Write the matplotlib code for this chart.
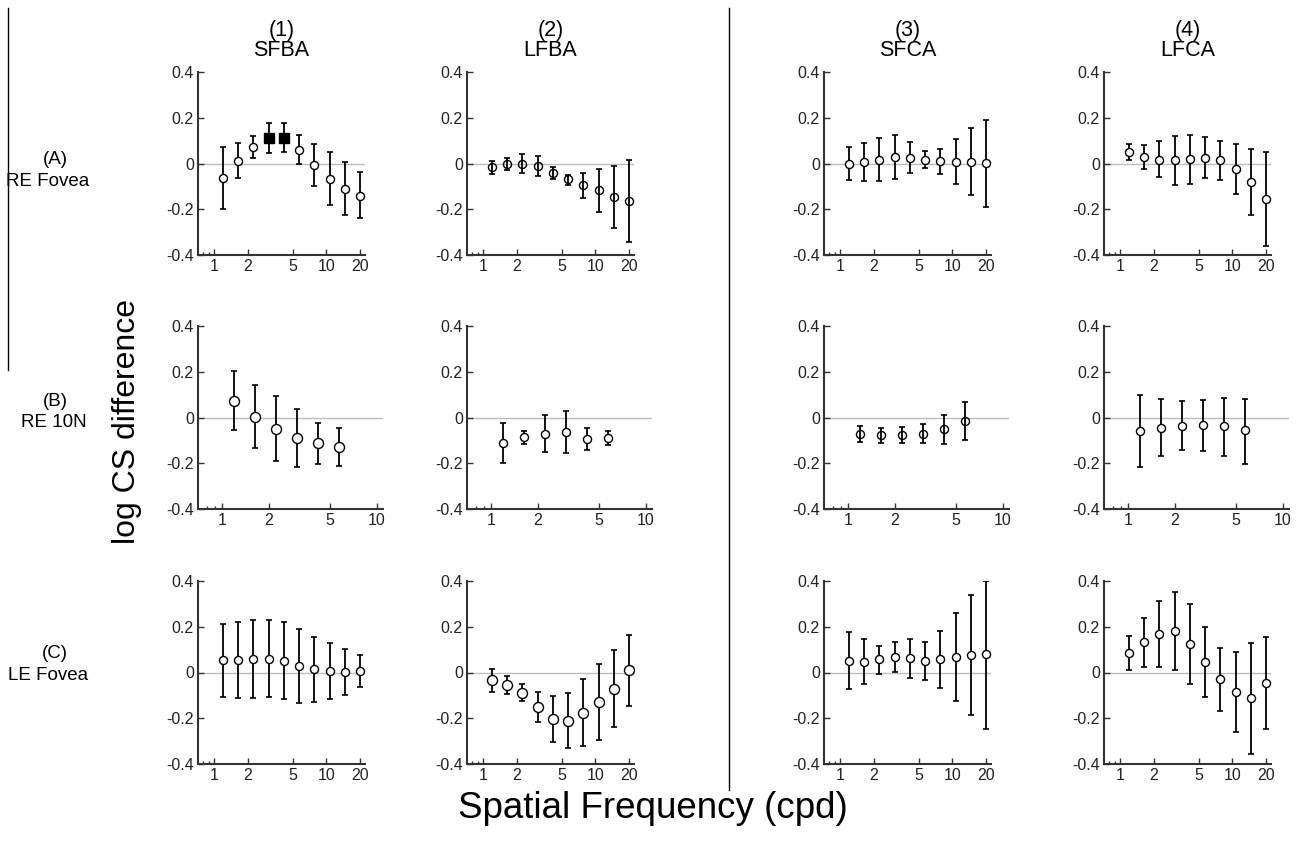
import matplotlib
matplotlib.use('Agg')
import matplotlib.pyplot as plt
from matplotlib.lines import Line2D
from matplotlib.ticker import FixedLocator, NullFormatter, FuncFormatter

plt.rcParams['font.family'] = ['Liberation Sans', 'DejaVu Sans']

# spatial frequencies (cpd)
freqs = [1.2, 1.64, 2.24, 3.06, 4.18, 5.71, 7.8, 10.65, 14.55, 19.9]

# row A : RE Fovea
A1_mean = [-0.064, 0.013, 0.072, 0.113, 0.113, 0.061, -0.007, -0.067, -0.11, -0.14]
A1_low = [-0.20, -0.064, 0.026, 0.048, 0.052, 0.0, -0.10, -0.18, -0.226, -0.24]
A1_high = [0.074, 0.088, 0.12, 0.175, 0.175, 0.125, 0.085, 0.049, 0.006, -0.035]

A2_mean = [-0.016, -0.003, 0.0, -0.012, -0.042, -0.068, -0.096, -0.118, -0.145, -0.165]
A2_low = [-0.045, -0.028, -0.042, -0.055, -0.067, -0.093, -0.15, -0.21, -0.28, -0.345]
A2_high = [0.012, 0.023, 0.042, 0.032, -0.016, -0.049, -0.04, -0.025, -0.01, 0.015]

A3_mean = [0.0, 0.006, 0.016, 0.028, 0.026, 0.017, 0.012, 0.007, 0.007, 0.003]
A3_low = [-0.07, -0.077, -0.078, -0.068, -0.043, -0.019, -0.045, -0.091, -0.139, -0.19]
A3_high = [0.072, 0.09, 0.113, 0.125, 0.096, 0.055, 0.065, 0.107, 0.154, 0.19]

A4_mean = [0.051, 0.029, 0.017, 0.014, 0.019, 0.025, 0.014, -0.025, -0.08, -0.155]
A4_low = [0.014, -0.023, -0.061, -0.094, -0.088, -0.062, -0.074, -0.135, -0.225, -0.36]
A4_high = [0.084, 0.083, 0.097, 0.119, 0.125, 0.115, 0.10, 0.085, 0.065, 0.05]

# row B : RE 10N
B1_mean = [0.074, 0.004, -0.049, -0.088, -0.113, -0.128]
B1_low = [-0.056, -0.134, -0.191, -0.216, -0.203, -0.212]
B1_high = [0.203, 0.143, 0.093, 0.037, -0.025, -0.047]

B2_mean = [-0.11, -0.087, -0.072, -0.065, -0.093, -0.09]
B2_low = [-0.20, -0.115, -0.151, -0.157, -0.143, -0.12]
B2_high = [-0.025, -0.059, 0.009, 0.029, -0.044, -0.06]

B3_mean = [-0.071, -0.078, -0.076, -0.071, -0.05, -0.015]
B3_low = [-0.107, -0.112, -0.113, -0.112, -0.115, -0.097]
B3_high = [-0.035, -0.047, -0.041, -0.029, 0.01, 0.068]

B4_mean = [-0.057, -0.044, -0.035, -0.034, -0.038, -0.055]
B4_low = [-0.215, -0.169, -0.144, -0.146, -0.168, -0.205]
B4_high = [0.099, 0.081, 0.072, 0.076, 0.087, 0.08]

# row C : LE Fovea
C1_mean = [0.054, 0.055, 0.057, 0.061, 0.052, 0.03, 0.016, 0.007, 0.003, 0.005]
C1_low = [-0.106, -0.11, -0.113, -0.107, -0.114, -0.132, -0.128, -0.114, -0.099, -0.065]
C1_high = [0.213, 0.222, 0.228, 0.23, 0.22, 0.19, 0.157, 0.129, 0.103, 0.075]

C2_mean = [-0.033, -0.055, -0.088, -0.151, -0.203, -0.21, -0.175, -0.13, -0.07, 0.01]
C2_low = [-0.087, -0.093, -0.126, -0.216, -0.303, -0.33, -0.32, -0.295, -0.24, -0.145]
C2_high = [0.017, -0.016, -0.052, -0.086, -0.101, -0.088, -0.03, 0.035, 0.10, 0.165]

C3_mean = [0.051, 0.048, 0.057, 0.068, 0.064, 0.052, 0.057, 0.068, 0.075, 0.08]
C3_low = [-0.074, -0.049, -0.006, 0.003, -0.023, -0.033, -0.067, -0.126, -0.186, -0.245]
C3_high = [0.177, 0.146, 0.116, 0.135, 0.148, 0.135, 0.183, 0.262, 0.338, 0.40]

C4_mean = [0.087, 0.132, 0.17, 0.181, 0.123, 0.045, -0.029, -0.085, -0.11, -0.045]
C4_low = [0.01, 0.025, 0.025, 0.009, -0.052, -0.109, -0.167, -0.26, -0.355, -0.245]
C4_high = [0.16, 0.238, 0.313, 0.354, 0.301, 0.20, 0.109, 0.09, 0.13, 0.155]

# significant points (filled squares) in A1
A1_sig = [3, 4]

col_titles = ['(1)\nSFBA', '(2)\nLFBA', '(3)\nSFCA', '(4)\nLFCA']
row_titles = [('(A)', 'RE Fovea'), ('(B)', 'RE 10N'), ('(C)', 'LE Fovea')]

data = {
    'A1': (A1_mean, A1_low, A1_high), 'A2': (A2_mean, A2_low, A2_high),
    'A3': (A3_mean, A3_low, A3_high), 'A4': (A4_mean, A4_low, A4_high),
    'B1': (B1_mean, B1_low, B1_high), 'B2': (B2_mean, B2_low, B2_high),
    'B3': (B3_mean, B3_low, B3_high), 'B4': (B4_mean, B4_low, B4_high),
    'C1': (C1_mean, C1_low, C1_high), 'C2': (C2_mean, C2_low, C2_high),
    'C3': (C3_mean, C3_low, C3_high), 'C4': (C4_mean, C4_low, C4_high),
}

W, H = 1306, 843
fig = plt.figure(figsize=(W / 100, H / 100), dpi=100)

col_left = [198, 467, 824, 1104]
row_top = [72, 326, 581]
ax_h = 183
big_markers = ['B1', 'C2']
hollow = ['A2', 'B3']
axis_col = '#333333'

for r, row in enumerate('ABC'):
    for c in range(4):
        key = row + str(c + 1)
        mean, low, high = data[key]
        x = freqs[:len(mean)]
        if row == 'B':
            w = 185
            xlim = (0.70, 11)
            majors = [1, 2, 5, 10]
        else:
            w = 167
            xlim = (0.72, 22)
            majors = [1, 2, 5, 10, 20]
        ax = fig.add_axes([col_left[c] / W, 1 - (row_top[r] + ax_h) / H, w / W, ax_h / H])
        ax.axhline(0, color='#bdbdbd', lw=1, zorder=0)
        yerr = [[m - lo for m, lo in zip(mean, low)], [hi - m for m, hi in zip(mean, high)]]
        ax.errorbar(x, mean, yerr=yerr, fmt='none', ecolor='black', elinewidth=1.3,
                    capsize=2, capthick=1.2, zorder=2)
        ms = 7.2 if key in big_markers else 5.8
        face = 'none' if key in hollow else 'white'
        for i, (xi, yi) in enumerate(zip(x, mean)):
            if key == 'A1' and i in A1_sig:
                ax.plot(xi, yi, 's', ms=6.8, mfc='black', mec='black', zorder=3)
            else:
                ax.plot(xi, yi, 'o', ms=ms, mfc=face, mec='black', mew=1, zorder=3)
        ax.set_xscale('log')
        ax.set_xlim(*xlim)
        ax.set_ylim(-0.4, 0.4)
        ax.xaxis.set_major_locator(FixedLocator(majors))
        ax.xaxis.set_major_formatter(FuncFormatter(lambda v, p: f'{v:g}'))
        ax.xaxis.set_minor_locator(FixedLocator([0.8, 0.9]))
        ax.xaxis.set_minor_formatter(NullFormatter())
        ax.set_yticks([-0.4, -0.2, 0, 0.2, 0.4])
        ax.set_yticklabels(['-0.4', '-0.2', '0', '0.2', '0.4'])
        for s in ['top', 'right']:
            ax.spines[s].set_visible(False)
        for s in ['left', 'bottom']:
            ax.spines[s].set_color(axis_col)
            ax.spines[s].set_linewidth(1.5)
        ax.tick_params(which='major', direction='in', length=4, width=1, labelsize=11.5,
                       color=axis_col, labelcolor='#222222', pad=3)
        ax.tick_params(which='minor', direction='in', length=2, width=1, color=axis_col)
        if r == 0:
            ax.text(0.5, 1 + 11 / ax_h, col_titles[c], transform=ax.transAxes, ha='center',
                    va='bottom', fontsize=15.5, linespacing=0.95)

# row labels (centre positions in pixels)
label_y = [(160, 181), (402, 422), (654, 675)]
name_x = [48, 54, 48]
for r, (lab, name) in enumerate(row_titles):
    fig.text(55 / W, 1 - label_y[r][0] / H, lab, ha='center', va='center', fontsize=13.5)
    fig.text(name_x[r] / W, 1 - label_y[r][1] / H, name, ha='center', va='center',
             fontsize=13.5)

fig.text(127 / W, 1 - 422 / H, 'log CS difference', rotation=90, ha='center',
         va='center', fontsize=23)
fig.text(653 / W, 1 - 809 / H, 'Spatial Frequency (cpd)', ha='center', va='center',
         fontsize=26.5)

# divider lines
fig.add_artist(Line2D([729 / W, 729 / W], [1 - 8 / H, 1 - 790 / H], color='black', lw=1))
fig.add_artist(Line2D([8 / W, 8 / W], [1 - 8 / H, 1 - 370 / H], color='black', lw=1))

fig.savefig('out.png', dpi=100)
